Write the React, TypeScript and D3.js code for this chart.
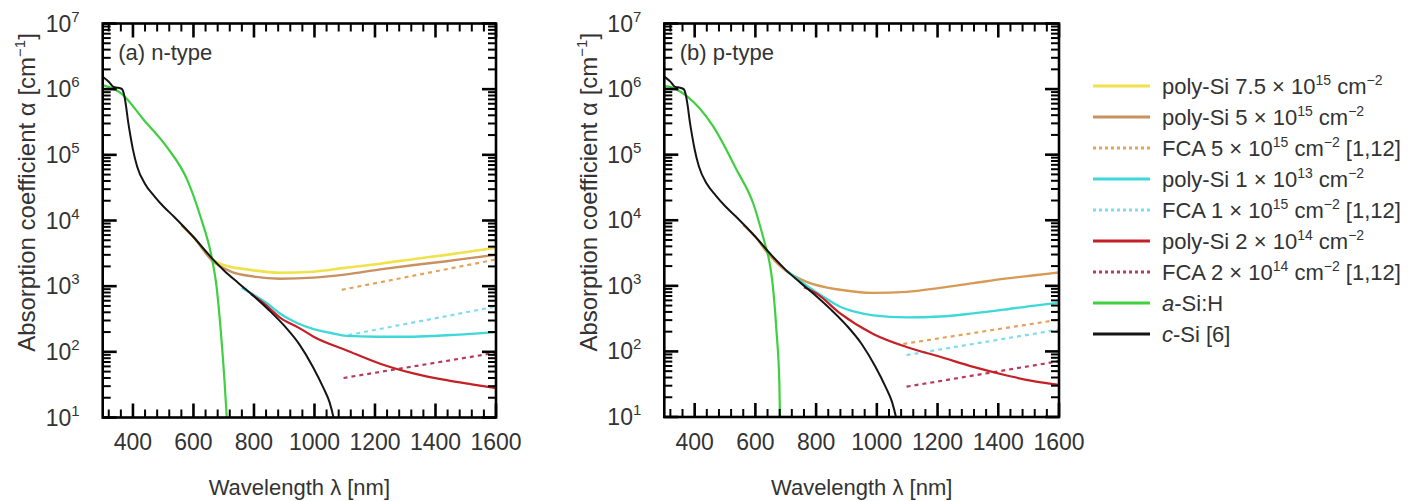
import React from "react";
import * as d3 from "d3";

type Pt = [number, number];

// ---- data (wavelength nm, absorption coefficient cm^-1) ----
const cSi: Pt[] = [
  [300, 1.55e6], [320, 1.3e6], [336, 1.08e6], [352, 1.05e6], [364, 1.0e6], [370, 8.5e5],
  [376, 6e5], [384, 3.2e5], [392, 1.9e5], [400, 1.2e5], [414, 6.6e4], [440, 3.6e4], [469, 2.4e4],
  [500, 1.65e4], [535, 1.15e4], [600, 5.6e3], [660, 2.7e3], [700, 1.75e3], [750, 1.1e3],
  [800, 7.0e2], [850, 4.3e2], [900, 2.5e2], [950, 1.3e2], [994, 60], [1030, 28],
  [1050, 17], [1063, 10], [1070, 7]
];
const aSiH_n: Pt[] = [
  [300, 1.15e6], [360, 8.7e5], [436, 3.4e5], [513, 1.3e5], [579, 4.2e4], [623, 1.15e4],
  [660, 2.8e3], [675, 1.1e3], [691, 190], [703, 34], [710, 10], [712, 7]
];
const aSiH_p: Pt[] = [
  [300, 1.1e6], [308, 1.1e6], [374, 7.8e5], [461, 2.7e5], [538, 5.9e4], [593, 1.8e4],
  [637, 3.5e3], [643, 2.75e3], [659, 8.5e2], [670, 190], [679, 32], [681, 10], [683, 7]
];
const polyN_75e15: Pt[] = [
  [560, 8.5e3], [600, 5.6e3], [660, 2.6e3], [700, 2.1e3], [777, 1.8e3], [887, 1.6e3],
  [997, 1.66e3], [1100, 1.9e3], [1217, 2.2e3], [1330, 2.6e3], [1437, 3.0e3], [1520, 3.4e3],
  [1600, 3.85e3]
];
const polyN_5e15: Pt[] = [
  [560, 8.5e3], [600, 5.6e3], [660, 2.5e3], [720, 1.7e3], [800, 1.4e3], [887, 1.3e3],
  [997, 1.35e3], [1100, 1.5e3], [1217, 1.8e3], [1330, 2.1e3], [1437, 2.4e3], [1520, 2.7e3],
  [1600, 3.0e3]
];
const polyN_1e15: Pt[] = [
  [760, 9.5e2], [800, 7.3e2], [843, 5.5e2], [887, 3.8e2], [942, 2.75e2], [1000, 2.2e2],
  [1052, 1.95e2], [1107, 1.75e2], [1200, 1.7e2], [1327, 1.7e2], [1450, 1.8e2], [1600, 2.0e2]
];
const polyN_2e14: Pt[] = [
  [790, 7.6e2], [830, 5.6e2], [887, 3.3e2], [950, 2.3e2], [997, 1.7e2], [1107, 1.05e2],
  [1217, 66], [1327, 47], [1437, 37], [1520, 32], [1600, 28]
];
const fcaN_5e15: Pt[] = [[1090, 880], [1600, 2.55e3]];
const fcaN_1e15: Pt[] = [[1112, 180], [1600, 490]];
const fcaN_2e14: Pt[] = [[1096, 40], [1600, 97]];

const polyP_5e15: Pt[] = [
  [560, 8.5e3], [600, 5.6e3], [637, 3.3e3], [700, 1.7e3], [769, 1.15e3], [879, 8.7e2],
  [988, 7.8e2], [1098, 8.1e2], [1208, 9.3e2], [1318, 1.1e3], [1430, 1.3e3], [1520, 1.45e3],
  [1600, 1.6e3]
];
const polyP_1e15: Pt[] = [
  [700, 1.75e3], [769, 1.0e3], [830, 6.5e2], [879, 4.8e2], [930, 4.0e2], [988, 3.55e2],
  [1098, 3.3e2], [1208, 3.4e2], [1318, 3.8e2], [1430, 4.4e2], [1520, 5.0e2], [1600, 5.5e2]
];
const polyP_2e14: Pt[] = [
  [760, 9.5e2], [802, 7.6e2], [879, 3.8e2], [988, 1.85e2], [1098, 1.17e2], [1208, 83],
  [1318, 58], [1428, 43], [1520, 35], [1600, 31]
];
const fcaP_5e15: Pt[] = [[1087, 130], [1600, 305]];
const fcaP_1e15: Pt[] = [[1098, 88], [1600, 215]];
const fcaP_2e14: Pt[] = [[1098, 29], [1600, 71]];

const xMajorTicks = [400, 600, 800, 1000, 1200, 1400, 1600];
const yDecades = [1, 2, 3, 4, 5, 6, 7];

const legendItems = [
  { key: "y75", pre: "poly-Si 7.5 × 10", e1: "15", mid: " cm", e2: "−2", post: "" },
  { key: "b5", pre: "poly-Si 5 × 10", e1: "15", mid: " cm", e2: "−2", post: "" },
  { key: "f5", pre: "FCA 5 × 10", e1: "15", mid: " cm", e2: "−2", post: " [1,12]" },
  { key: "c1", pre: "poly-Si 1 × 10", e1: "13", mid: " cm", e2: "−2", post: "" },
  { key: "f1", pre: "FCA 1 × 10", e1: "15", mid: " cm", e2: "−2", post: " [1,12]" },
  { key: "r2", pre: "poly-Si 2 × 10", e1: "14", mid: " cm", e2: "−2", post: "" },
  { key: "f2", pre: "FCA 2 × 10", e1: "14", mid: " cm", e2: "−2", post: " [1,12]" },
  { key: "g", pre: "", e1: "", mid: "", e2: "", post: "" },
  { key: "k", pre: "", e1: "", mid: "", e2: "", post: "" },
];

const STY: Record<string, { color: string; dash?: string; w: number }> = {
  y75: { color: "#f0e24a", w: 2.6 },
  b5: { color: "#c99060", w: 2.4 },
  b5p: { color: "#d69a55", w: 2.4 },
  f5: { color: "#e3a35c", dash: "4,4", w: 2.2 },
  c1: { color: "#3fd8d8", w: 2.4 },
  f1: { color: "#7fdcec", dash: "4,4", w: 2.2 },
  r2: { color: "#c42026", w: 2.2 },
  f2: { color: "#b83a5c", dash: "4,4", w: 2.2 },
  g: { color: "#3fcf3f", w: 2.2 },
  k: { color: "#151515", w: 2 },
};

const FONT = "'Liberation Sans', Arial, Helvetica, sans-serif";

type Panel = {
  id: string;
  left: number; right: number; top: number; bottom: number;
  label: string;
  yTitleX: number;
  curves: { key: string; data: Pt[] }[];
};

const panels: Panel[] = [
  {
    id: "a", left: 102.7, right: 496, top: 23.5, bottom: 417.5, label: "(a) n-type", yTitleX: 35,
    curves: [
      { key: "y75", data: polyN_75e15 },
      { key: "b5", data: polyN_5e15 },
      { key: "f5", data: fcaN_5e15 },
      { key: "f1", data: fcaN_1e15 },
      { key: "f2", data: fcaN_2e14 },
      { key: "c1", data: polyN_1e15 },
      { key: "r2", data: polyN_2e14 },
      { key: "g", data: aSiH_n },
      { key: "k", data: cSi },
    ],
  },
  {
    id: "b", left: 664.3, right: 1059, top: 23.5, bottom: 417, label: "(b) p-type", yTitleX: 597,
    curves: [
      { key: "b5p", data: polyP_5e15 },
      { key: "f5", data: fcaP_5e15 },
      { key: "f1", data: fcaP_1e15 },
      { key: "f2", data: fcaP_2e14 },
      { key: "c1", data: polyP_1e15 },
      { key: "r2", data: polyP_2e14 },
      { key: "g", data: aSiH_p },
      { key: "k", data: cSi },
    ],
  },
];

function PanelView({ p }: { p: Panel }) {
  const x = d3.scaleLinear().domain([300, 1600]).range([p.left, p.right]);
  const y = d3.scaleLog().domain([10, 1e7]).range([p.bottom, p.top]);
  const lineGen = d3
    .line<Pt>()
    .x((d) => x(d[0]))
    .y((d) => y(d[1]))
    .curve(d3.curveMonotoneX);

  const xMinor = d3.range(320, 1600, 40).filter((v) => v % 200 !== 0);
  const yMinor: number[] = [];
  for (let e = 1; e < 7; e++) for (let m = 2; m <= 9; m++) yMinor.push(m * Math.pow(10, e));

  const MJ = 14, MN = 8;
  const cx = (p.left + p.right) / 2;
  const cy = (p.top + p.bottom) / 2;
  const clipId = `clip-${p.id}`;

  const segs: [number, number, number, number, number][] = [];
  xMajorTicks.forEach((v) => {
    segs.push([x(v), p.bottom, x(v), p.bottom - MJ, 1]);
    segs.push([x(v), p.top, x(v), p.top + MJ, 1]);
  });
  xMinor.forEach((v) => {
    segs.push([x(v), p.bottom, x(v), p.bottom - MN, 0]);
    segs.push([x(v), p.top, x(v), p.top + MN, 0]);
  });
  yDecades.forEach((e) => {
    const yy = y(Math.pow(10, e));
    segs.push([p.left, yy, p.left + MJ, yy, 1]);
    segs.push([p.right, yy, p.right - MJ, yy, 1]);
  });
  yMinor.forEach((v) => {
    const yy = y(v);
    segs.push([p.left, yy, p.left + MN, yy, 0]);
    segs.push([p.right, yy, p.right - MN, yy, 0]);
  });

  return (
    <g>
      <defs>
        <clipPath id={clipId}>
          <rect x={p.left} y={p.top} width={p.right - p.left} height={p.bottom - p.top} />
        </clipPath>
      </defs>
      <g clipPath={`url(#${clipId})`}>
        {p.curves.map((c, i) => {
          const s = STY[c.key];
          return (
            <path key={i} d={lineGen(c.data) || ""} fill="none" stroke={s.color}
              strokeWidth={s.w} strokeDasharray={s.dash} strokeLinejoin="round" />
          );
        })}
      </g>
      {segs.map((s, i) => (
        <line key={"tk" + i} x1={s[0]} y1={s[1]} x2={s[2]} y2={s[3]}
          stroke="#000" strokeWidth={s[4] ? 2.6 : 2} />
      ))}
      <rect x={p.left} y={p.top} width={p.right - p.left} height={p.bottom - p.top}
        fill="none" stroke="#000" strokeWidth={2.6} />
      {/* tick labels */}
      <g fontFamily={FONT} fill="#333">
        {xMajorTicks.map((v) => (
          <text key={"xl" + v} x={x(v)} y={450} fontSize={23} textAnchor="middle">{v}</text>
        ))}
        {yDecades.map((e) => (
          <text key={"yl" + e} fontSize={23} textAnchor="end"
            x={p.left - 23} y={y(Math.pow(10, e)) + 8}>
            <tspan>10</tspan>
            <tspan dy={-10} fontSize={15}>{e}</tspan>
          </text>
        ))}
      </g>
      <text x={p.left + 15.5} y={60} fontFamily={FONT} fontSize={22} fill="#333">{p.label}</text>
      <text x={cx} y={495} fontFamily={FONT} fontSize={22} fill="#333" textAnchor="middle">
        Wavelength λ [nm]
      </text>
      <text transform={`translate(${p.yTitleX},${cy - 28}) rotate(-90)`} fontFamily={FONT}
        fontSize={24} fill="#333" textAnchor="middle">
        <tspan>Absorption coefficient α [cm</tspan>
        <tspan dy={-10} fontSize={15}>−1</tspan>
        <tspan dy={10}>]</tspan>
      </text>
    </g>
  );
}

function Legend() {
  const x0 = 1093, x1 = 1150, tx = 1162, y0 = 86, dy = 31;
  return (
    <g fontFamily={FONT} fontSize={22} fill="#333">
      {legendItems.map((it, i) => {
        const s = STY[it.key];
        const yy = y0 + i * dy;
        return (
          <g key={it.key}>
            <line x1={x0} x2={x1} y1={yy} y2={yy} stroke={s.color} strokeWidth={3}
              strokeDasharray={s.dash ? "3,3" : undefined} />
            {it.key === "g" ? (
              <text x={tx} y={yy + 8}><tspan fontStyle="italic">a</tspan>-Si:H</text>
            ) : it.key === "k" ? (
              <text x={tx} y={yy + 8}><tspan fontStyle="italic">c</tspan>-Si  [6]</text>
            ) : (
              <text x={tx} y={yy + 8}>
                <tspan>{it.pre}</tspan>
                <tspan dy={-9} fontSize={14}>{it.e1}</tspan>
                <tspan dy={9}>{it.mid}</tspan>
                <tspan dy={-9} fontSize={14}>{it.e2}</tspan>
                <tspan dy={9}>{it.post}</tspan>
              </text>
            )}
          </g>
        );
      })}
    </g>
  );
}

export default function App() {
  return (
    <svg width={1414} height={501} viewBox="0 0 1414 501"
      style={{ position: "absolute", left: 0, top: 0, background: "#fff" }}>
      <rect x={0} y={0} width={1414} height={501} fill="#fff" />
      {panels.map((p) => (
        <PanelView key={p.id} p={p} />
      ))}
      <Legend />
    </svg>
  );
}
